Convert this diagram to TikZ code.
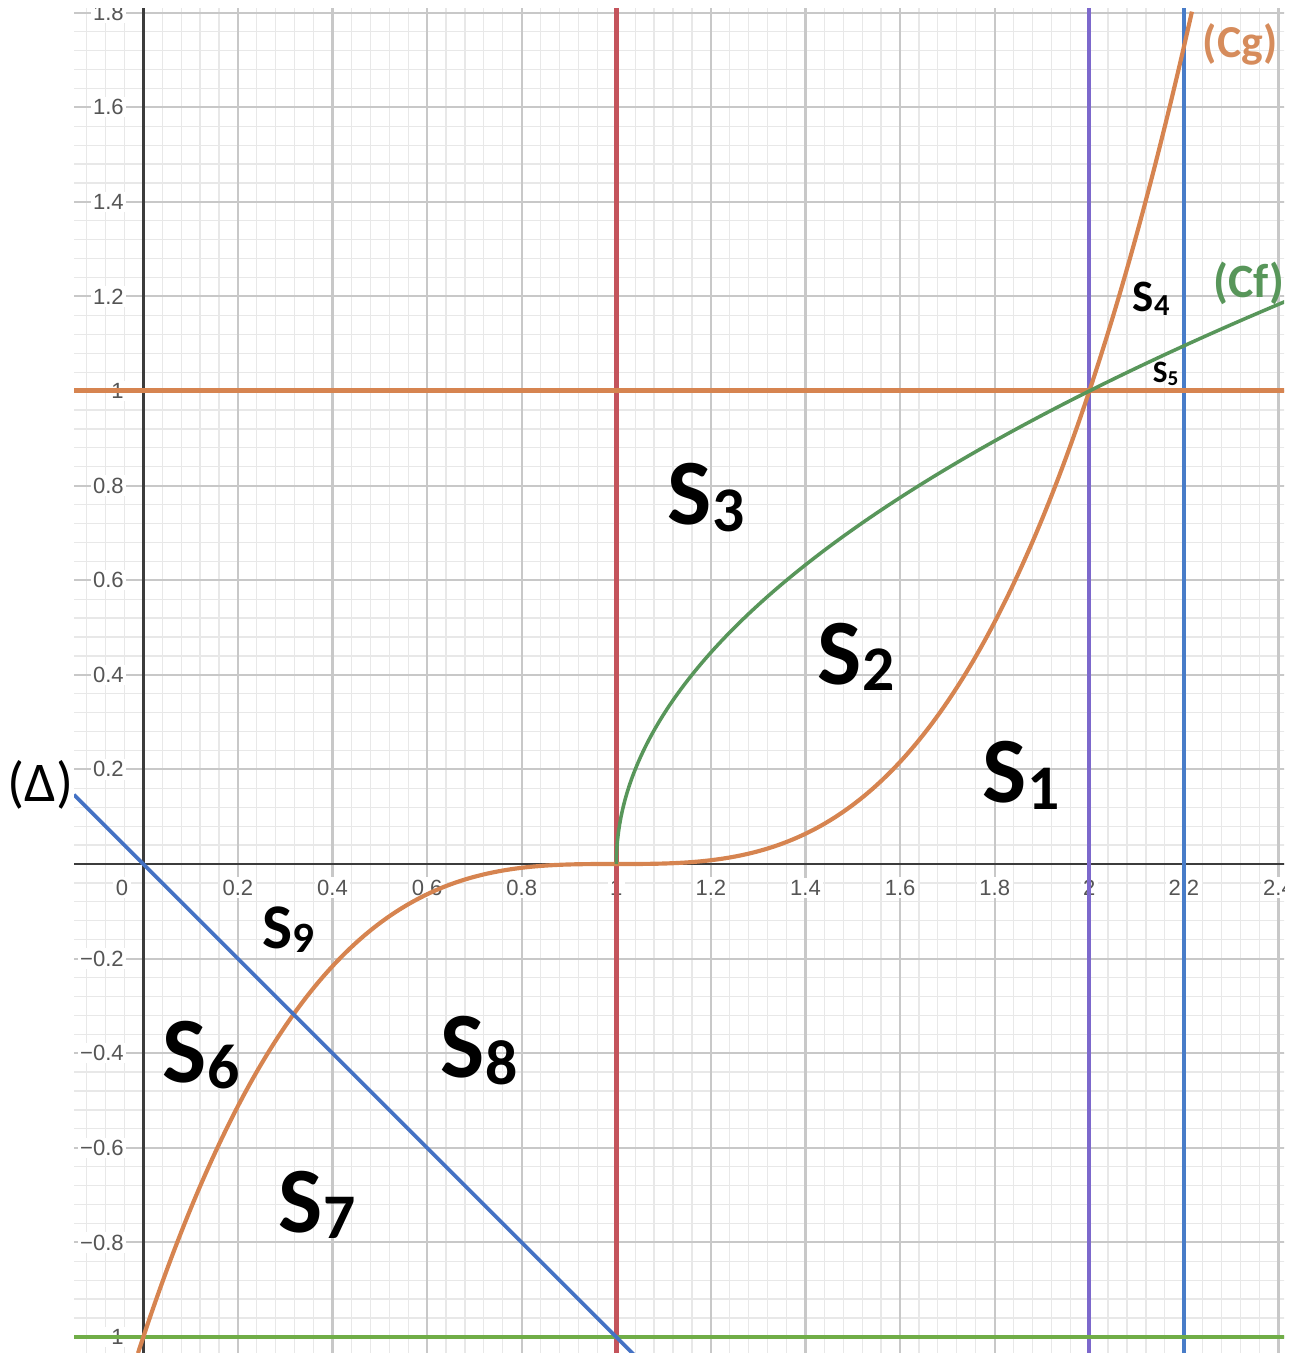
\documentclass[tikz,border=0pt]{standalone}
\usepackage{fontspec}
\setmainfont{Carlito}
\newfontfamily\tickfont{Liberation Sans}
\definecolor{gridmajor}{RGB}{200,200,200}
\definecolor{gridminor}{RGB}{232,232,232}
\definecolor{axiscol}{RGB}{60,60,60}
\definecolor{tickcol}{RGB}{85,85,85}
\definecolor{redline}{RGB}{196,84,92}
\definecolor{purpleline}{RGB}{124,104,204}
\definecolor{blueline}{RGB}{72,124,200}
\definecolor{deltacol}{RGB}{68,114,196}
\definecolor{orangecol}{RGB}{214,132,80}
\definecolor{cgtext}{RGB}{214,140,92}
\definecolor{greenline}{RGB}{112,173,71}
\definecolor{cfcol}{RGB}{88,150,90}
\newcommand{\slab}[1]{S\raisebox{-0.07em}{\scalebox{0.68}{#1}}}

\begin{document}
\begin{tikzpicture}[x=4cm,y=4cm,
	minorline/.style={gridminor,line width=0.3pt},
	majorline/.style={gridmajor,line width=0.5pt},
	axisline/.style={axiscol,line width=0.6pt},
	ticklab/.style={font=\tickfont\fontsize{5.3}{6}\selectfont,text=tickcol,fill=white,inner sep=0.6pt},
	area/.style={anchor=base west,inner sep=0pt,font=\bfseries\fontsize{#1}{#1}\selectfont},
	curvelab/.style={anchor=base west,inner sep=0pt,font=\bfseries\fontsize{#1}{#1}\selectfont}]
	\useasboundingbox (-0.30296,-1.0338) rectangle (2.42854,1.8266);
	\begin{scope}
	\clip (-0.1465,-1.0338) rectangle (2.4116,1.8076);
	% grid
	\foreach \i in {-4,...,61} \draw[minorline] (\i*0.04,-1.1) -- (\i*0.04,1.9);
	\foreach \j in {-26,...,46} \draw[minorline] (-0.2,\j*0.04) -- (2.5,\j*0.04);
	\foreach \i in {-1,...,12} \draw[majorline] (\i*0.2,-1.1) -- (\i*0.2,1.9);
	\foreach \j in {-5,...,9} \draw[majorline] (-0.2,\j*0.2) -- (2.5,\j*0.2);
	\draw[axisline] (-0.2,0) -- (2.5,0);
	\draw[axisline] (0,-1.1) -- (0,1.9);
	% tick labels
	\node[ticklab] (x0) at (-0.0448,-0.05) {0};
	\foreach \v [count=\k] in {0.2,0.4,0.6,0.8,1,1.2,1.4,1.6,1.8,2,2.2,2.4}
		\node[ticklab] (x\k) at (\v,-0.05) {\v};
	\foreach \v [count=\k] in {1.8,1.6,1.4,1.2,1,0.8,0.6,0.4,0.2}
		\node[ticklab,anchor=east] (y\k) at (-0.0345,\v) {\v};
	\foreach \v/\t [count=\k] in {-0.2/0.2,-0.4/0.4,-0.6/0.6,-0.8/0.8,-1/1}
		\node[ticklab,anchor=east] (ym\k) at (-0.0345,\v) {−\t};
	% lines
	\draw[redline,line width=1.2pt] (1,-1.1) -- (1,1.9);
	\draw[purpleline,line width=1pt] (2,-1.1) -- (2,1.9);
	\draw[blueline,line width=1pt] (2.2,-1.1) -- (2.2,1.9);
	\draw[orangecol,line width=1.2pt] (-0.2,1) -- (2.5,1);
	\draw[greenline,line width=1pt] (-0.2,-1) -- (2.5,-1);
	% curves
	\draw[orangecol,line width=1pt] plot[domain=-1.0112:1.2175,samples=150,smooth] ({1+\x},{\x*\x*\x});
	\draw[cfcol,line width=0.85pt] plot[domain=0:1.19,samples=100,smooth] ({1+\x*\x},\x);
	\draw[deltacol,line width=0.9pt] (-0.1465,0.1465) -- (1.06,-1.06);
	\end{scope}
	% labels
	\node[area=22.5] (s1) at (1.7731,0.1290) {\slab{1}};
	\node[area=22.5] (s2) at (1.4243,0.3805) {\slab{2}};
	\node[area=22.5] (s3) at (1.1072,0.7167) {\slab{3}};
	\node[area=10.8] (s4) at (2.0903,1.1670) {\slab{4}};
	\node[area=7.5] (s5) at (2.1325,1.0169) {\slab{5}};
	\node[area=22.5] (s6) at (0.0395,-0.4609) {\slab{6}};
	\node[area=22.5] (s7) at (0.2848,-0.7780) {\slab{7}};
	\node[area=22.5] (s8) at (0.6273,-0.4524) {\slab{8}};
	\node[area=15.3] (s9) at (0.2510,-0.1776) {\slab{9}};
	\node[curvelab=11,text=cgtext] (cg) at (2.2383,1.7040) {(Cg)};
	\node[curvelab=11.5,text=cfcol] (cf) at (2.2611,1.1987) {(Cf)};
	\node[anchor=base west,inner sep=0pt,font=\fontsize{13.5}{13.5}\selectfont] (delta) at (-0.2880,0.1330) {(Δ)};
\end{tikzpicture}
\end{document}
